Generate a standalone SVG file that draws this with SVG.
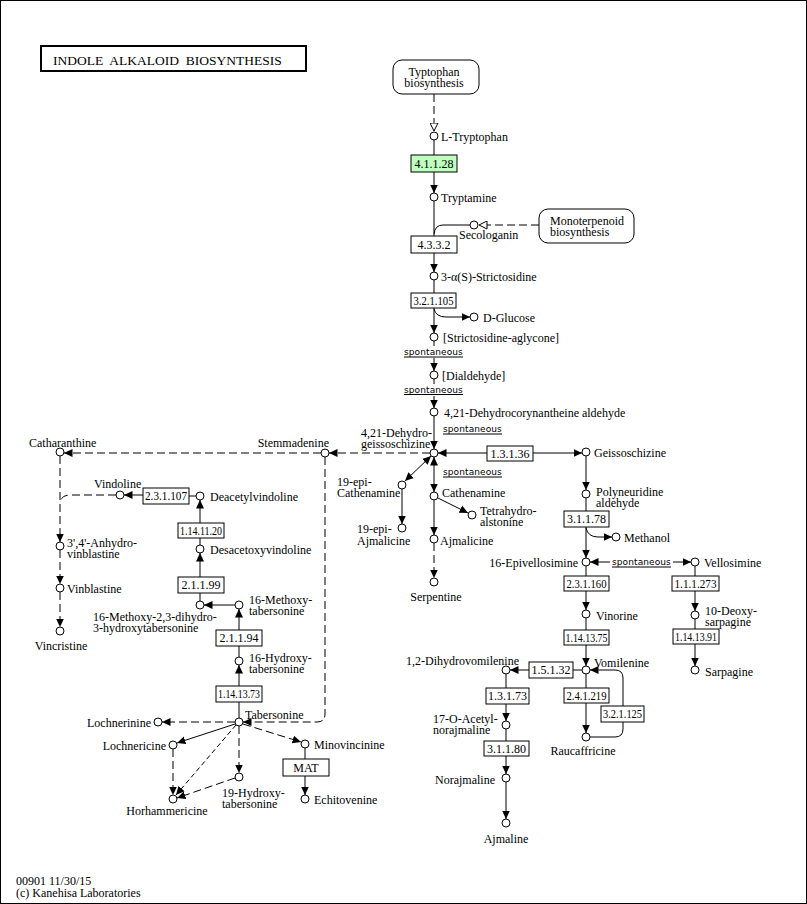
<svg xmlns="http://www.w3.org/2000/svg" width="807" height="904" viewBox="0 0 807 904">
<defs>
<marker id="a" markerUnits="userSpaceOnUse" markerWidth="9" markerHeight="9" refX="8.5" refY="4.5" orient="auto-start-reverse"><path d="M0,0.5 L8.5,4.5 L0,8.5 z" fill="#000"/></marker>
<marker id="o" markerUnits="userSpaceOnUse" markerWidth="9" markerHeight="9" refX="8.5" refY="4.5" orient="auto"><path d="M0.5,0.5 L8.5,4.5 L0.5,8.5 z" fill="#fff" stroke="#000" stroke-width="1"/></marker>
</defs>
<style>
text{font-family:"Liberation Serif","Times New Roman",serif;font-size:12px;fill:#000}
.m{text-anchor:middle}
.r{text-anchor:end}
.s{font-family:"DejaVu Sans","Liberation Sans",sans-serif;font-size:9px;letter-spacing:0.1px}
.c{fill:#fff;stroke:#000;stroke-width:1}
.b{fill:#fff;stroke:#000;stroke-width:1}
.g{fill:#bfffbf;stroke:#000;stroke-width:1}
#edges path{fill:none;stroke:#000;stroke-width:1}
#edges .d{stroke-dasharray:8,4}
#edges .t{stroke-dasharray:5,3}
#edges .ar{marker-end:url(#a)}
#edges .bi{marker-start:url(#a);marker-end:url(#a)}
#edges .op{marker-end:url(#o)}
.u{stroke:#000;stroke-width:1}
</style>
<rect x="0.5" y="0.5" width="806" height="903" fill="#fff" stroke="#000" stroke-width="1"/>
<g id="title"><rect x="41" y="46" width="265" height="25" fill="#fff" stroke="#000" stroke-width="2"/><text x="53" y="65" xml:space="preserve" style="font-size:13.5px">INDOLE  ALKALOID  BIOSYNTHESIS</text></g>

<g id="edges">
<path class="d op" d="M434,94 V131"/>
<path d="M434,140 V155"/>
<path class="ar" d="M434,172 V193"/>
<path d="M434,201 V236"/>
<path d="M470,225 H443 Q435,225 434,234"/>
<path class="d op" d="M539,225 H479"/>
<path class="ar" d="M434,253 V272"/>
<path d="M434,280 V293"/>
<path class="ar" d="M434,308 V333"/>
<path class="ar" d="M434,309 Q436,317 446,317 H470"/>
<path class="ar" d="M434,341 V371"/>
<path class="ar" d="M434,379 V408"/>
<path class="ar" d="M434,416 V449"/>
<path class="d ar" d="M430,453 H329"/>
<path class="d ar" d="M321,453 H64"/>
<path class="d ar" d="M325,457 V714 Q325,722 317,722 H243"/>
<path class="ar" d="M487,453 H438"/>
<path class="ar" d="M533,453 H582"/>
<path class="bi" d="M434,457 V492"/>
<path class="bi" d="M431,456 L405,481"/>
<path class="ar" d="M402,489 V524"/>
<path class="ar" d="M438,498 L468,513"/>
<path class="ar" d="M434,500 V535"/>
<path class="d ar" d="M434,543 V578"/>
<path class="ar" d="M586,456 V490"/>
<path d="M586,498 V511"/>
<path class="ar" d="M586,527 V558"/>
<path class="ar" d="M586,528 Q588,537 598,537 H612"/>
<path class="ar" d="M610,562 H590"/>
<path class="ar" d="M673,562 H691"/>
<path d="M586,566 V576"/>
<path class="ar" d="M586,591 V610"/>
<path d="M586,618 V630"/>
<path class="ar" d="M586,645 V666"/>
<path d="M695,566 V576"/>
<path class="ar" d="M695,591 V611"/>
<path d="M695,619 V629"/>
<path class="ar" d="M695,644 V666"/>
<path d="M582,670 H573"/>
<path class="ar" d="M529,670 H510"/>
<path d="M506,674 V688"/>
<path class="ar" d="M506,704 V721"/>
<path d="M506,729 V741"/>
<path class="ar" d="M506,756 V774"/>
<path class="ar" d="M506,782 V819"/>
<path d="M586,674 V688"/>
<path class="ar" d="M586,703 V733"/>
<path class="ar" d="M590,737 H615 Q623,737 623,729 V678 Q623,670 615,670 H590"/>
<path class="d ar" d="M60,456 V542"/>
<path class="d" d="M116,495 H70 Q61,495 60,503"/>
<path class="ar" d="M143,495 H124"/>
<path d="M189,496 H196"/>
<path class="ar" d="M200,523 V500"/>
<path d="M200,553 V538"/>
<path class="ar" d="M200,577 V553"/>
<path d="M200,593 V601"/>
<path class="ar" d="M235,605 H204"/>
<path class="ar" d="M239,630 V609"/>
<path d="M239,657 V646"/>
<path class="ar" d="M239,686 V665"/>
<path d="M239,702 V718"/>
<path class="d ar" d="M60,550 V584"/>
<path class="d ar" d="M60,592 V627"/>
<path class="d ar" d="M235,722 H162"/>
<path class="ar" d="M235,724 L177,743"/>
<path class="t ar" d="M236,725 L176,795"/>
<path class="d ar" d="M239,726 V773"/>
<path class="d ar" d="M243,724 L301,742"/>
<path class="d ar" d="M173,749 V795"/>
<path class="d ar" d="M235,778 L177,798"/>
<path d="M305,748 V759"/>
<path class="ar" d="M305,776 V795"/>
</g>

<g id="map_tryptophan"><rect x="393" y="60" width="86" height="34" rx="9" class="b"/><text class="m" x="434" y="76">Typtophan</text><text class="m" x="434" y="87">biosynthesis</text></g>
<g id="map_monoterpenoid"><rect x="539" y="209" width="95" height="34" rx="9" class="b"/><text x="550" y="225">Monoterpenoid</text><text x="550" y="236">biosynthesis</text></g>

<g id="ec_4.1.1.28"><rect x="411" y="155" width="46" height="17" class="g"/><text class="m" x="434" y="168">4.1.1.28</text></g>
<g id="ec_4.3.3.2"><rect x="411" y="236" width="46" height="17" class="b"/><text class="m" x="434" y="249">4.3.3.2</text></g>
<g id="ec_3.2.1.105"><rect x="411" y="293" width="45" height="15" class="b"/><text class="m" x="433.5" y="305" textLength="40" lengthAdjust="spacingAndGlyphs">3.2.1.105</text></g>
<g id="ec_1.3.1.36"><rect x="487" y="446" width="46" height="15" class="b"/><text class="m" x="510" y="458">1.3.1.36</text></g>
<g id="ec_3.1.1.78"><rect x="564" y="511" width="45" height="16" class="b"/><text class="m" x="586.5" y="523">3.1.1.78</text></g>
<g id="ec_2.3.1.160"><rect x="564" y="576" width="45" height="15" class="b"/><text class="m" x="586.5" y="588" textLength="40" lengthAdjust="spacingAndGlyphs">2.3.1.160</text></g>
<g id="ec_1.14.13.75"><rect x="564" y="630" width="45" height="15" class="b"/><text class="m" x="586.5" y="642" textLength="42" lengthAdjust="spacingAndGlyphs">1.14.13.75</text></g>
<g id="ec_1.1.1.273"><rect x="672" y="576" width="47" height="15" class="b"/><text class="m" x="695.5" y="588" textLength="42" lengthAdjust="spacingAndGlyphs">1.1.1.273</text></g>
<g id="ec_1.14.13.91"><rect x="673" y="629" width="46" height="15" class="b"/><text class="m" x="696" y="641" textLength="42" lengthAdjust="spacingAndGlyphs">1.14.13.91</text></g>
<g id="ec_1.5.1.32"><rect x="529" y="662" width="44" height="16" class="b"/><text class="m" x="551" y="674">1.5.1.32</text></g>
<g id="ec_1.3.1.73"><rect x="486" y="688" width="43" height="16" class="b"/><text class="m" x="507.5" y="700">1.3.1.73</text></g>
<g id="ec_3.1.1.80"><rect x="484" y="741" width="45" height="15" class="b"/><text class="m" x="506.5" y="753">3.1.1.80</text></g>
<g id="ec_2.4.1.219"><rect x="564" y="688" width="45" height="15" class="b"/><text class="m" x="586.5" y="700" textLength="40" lengthAdjust="spacingAndGlyphs">2.4.1.219</text></g>
<g id="ec_3.2.1.125"><rect x="601" y="706" width="43" height="16" class="b"/><text class="m" x="622.5" y="718" textLength="39" lengthAdjust="spacingAndGlyphs">3.2.1.125</text></g>
<g id="ec_2.3.1.107"><rect x="143" y="488" width="46" height="16" class="b"/><text class="m" x="166" y="500" textLength="42" lengthAdjust="spacingAndGlyphs">2.3.1.107</text></g>
<g id="ec_1.14.11.20"><rect x="178" y="523" width="46" height="15" class="b"/><text class="m" x="201" y="535" textLength="42" lengthAdjust="spacingAndGlyphs">1.14.11.20</text></g>
<g id="ec_2.1.1.99"><rect x="178" y="577" width="46" height="16" class="b"/><text class="m" x="201" y="589">2.1.1.99</text></g>
<g id="ec_2.1.1.94"><rect x="216" y="630" width="46" height="16" class="b"/><text class="m" x="239" y="642">2.1.1.94</text></g>
<g id="ec_1.14.13.73"><rect x="216" y="686" width="46" height="16" class="b"/><text class="m" x="239" y="698" textLength="42" lengthAdjust="spacingAndGlyphs">1.14.13.73</text></g>
<g id="ec_MAT"><rect x="283" y="759" width="46" height="17" class="b"/><text class="m" x="306" y="772">MAT</text></g>

<g id="spontaneous">
<rect x="403" y="346" width="62" height="12" fill="#fff"/><text class="s" x="404" y="355">spontaneous</text><line class="u" x1="404" y1="357" x2="463" y2="357"/>
<rect x="403" y="384" width="62" height="12" fill="#fff"/><text class="s" x="404" y="392.5">spontaneous</text><line class="u" x1="404" y1="394.5" x2="463" y2="394.5"/>
<text class="s" x="443" y="432">spontaneous</text><line class="u" x1="443" y1="434" x2="502" y2="434"/>
<text class="s" x="443" y="475">spontaneous</text><line class="u" x1="443" y1="477" x2="502" y2="477"/>
<text class="s" x="612" y="565">spontaneous</text><line class="u" x1="612" y1="567" x2="671" y2="567"/>
</g>

<g id="n_ltrp"><circle cx="434" cy="136" r="4" class="c"/><text x="441" y="141">L-Tryptophan</text></g>
<g id="n_tryptamine"><circle cx="434" cy="197" r="4" class="c"/><text x="441" y="202">Tryptamine</text></g>
<g id="n_secologanin"><circle cx="474" cy="225" r="4" class="c"/><text x="459" y="239">Secologanin</text></g>
<g id="n_strictosidine"><circle cx="434" cy="276" r="4" class="c"/><text x="441" y="281">3-α(S)-Strictosidine</text></g>
<g id="n_glucose"><circle cx="474" cy="317" r="4" class="c"/><text x="483" y="322">D-Glucose</text></g>
<g id="n_aglycone"><circle cx="434" cy="337" r="4" class="c"/><text x="443" y="342">[Strictosidine-aglycone]</text></g>
<g id="n_dialdehyde"><circle cx="434" cy="375" r="4" class="c"/><text x="442" y="380">[Dialdehyde]</text></g>
<g id="n_dca"><circle cx="434" cy="412" r="4" class="c"/><text x="444" y="417">4,21-Dehydrocorynantheine aldehyde</text></g>
<g id="n_dhg"><circle cx="434" cy="453" r="4" class="c"/><text x="361" y="437">4,21-Dehydro-</text><text x="361" y="448">geissoschizine</text></g>
<g id="n_stemmadenine"><circle cx="325" cy="453" r="4" class="c"/><text class="r" x="329" y="447">Stemmadenine</text></g>
<g id="n_catharanthine"><circle cx="60" cy="452" r="4" class="c"/><text x="29" y="447">Catharanthine</text></g>
<g id="n_geissoschizine"><circle cx="586" cy="452" r="4" class="c"/><text x="594" y="457">Geissoschizine</text></g>
<g id="n_epicathenamine"><circle cx="402" cy="485" r="4" class="c"/><text x="337" y="486">19-epi-</text><text x="337" y="497">Cathenamine</text></g>
<g id="n_epiajmalicine"><circle cx="402" cy="528" r="4" class="c"/><text x="357" y="533">19-epi-</text><text x="357" y="545">Ajmalicine</text></g>
<g id="n_cathenamine"><circle cx="434" cy="496" r="4" class="c"/><text x="442" y="497">Cathenamine</text></g>
<g id="n_tha"><circle cx="472" cy="515" r="4" class="c"/><text x="480" y="515">Tetrahydro-</text><text x="480" y="526">alstonine</text></g>
<g id="n_ajmalicine"><circle cx="434" cy="539" r="4" class="c"/><text x="440" y="545">Ajmalicine</text></g>
<g id="n_serpentine"><circle cx="434" cy="582" r="4" class="c"/><text class="m" x="436" y="601">Serpentine</text></g>
<g id="n_polyneuridine"><circle cx="586" cy="494" r="4" class="c"/><text x="596" y="496">Polyneuridine</text><text x="596" y="507">aldehyde</text></g>
<g id="n_methanol"><circle cx="616" cy="537" r="4" class="c"/><text x="624" y="542">Methanol</text></g>
<g id="n_epivellosimine"><circle cx="586" cy="562" r="4" class="c"/><text class="r" x="578" y="567">16-Epivellosimine</text></g>
<g id="n_vellosimine"><circle cx="695" cy="562" r="4" class="c"/><text x="704" y="567">Vellosimine</text></g>
<g id="n_vinorine"><circle cx="586" cy="614" r="4" class="c"/><text x="596" y="620">Vinorine</text></g>
<g id="n_deoxysarpagine"><circle cx="695" cy="615" r="4" class="c"/><text x="705" y="615">10-Deoxy-</text><text x="705" y="626">sarpagine</text></g>
<g id="n_sarpagine"><circle cx="695" cy="670" r="4" class="c"/><text x="705" y="676">Sarpagine</text></g>
<g id="n_vomilenine"><circle cx="586" cy="670" r="4" class="c"/><text x="594" y="667">Vomilenine</text></g>
<g id="n_dhv"><circle cx="506" cy="670" r="4" class="c"/><text class="r" x="519" y="665">1,2-Dihydrovomilenine</text></g>
<g id="n_acetylnorajmaline"><circle cx="506" cy="725" r="4" class="c"/><text x="433" y="723">17-O-Acetyl-</text><text x="433" y="734">norajmaline</text></g>
<g id="n_norajmaline"><circle cx="506" cy="778" r="4" class="c"/><text class="r" x="495" y="784">Norajmaline</text></g>
<g id="n_ajmaline"><circle cx="506" cy="823" r="4" class="c"/><text class="m" x="506" y="843">Ajmaline</text></g>
<g id="n_raucaffricine"><circle cx="586" cy="737" r="4" class="c"/><text class="m" x="583" y="755">Raucaffricine</text></g>
<g id="n_vindoline"><circle cx="120" cy="495" r="4" class="c"/><text x="94" y="488">Vindoline</text></g>
<g id="n_deacetylvindoline"><circle cx="200" cy="496" r="4" class="c"/><text x="210" y="501">Deacetylvindoline</text></g>
<g id="n_desacetoxyvindoline"><circle cx="200" cy="549" r="4" class="c"/><text x="210" y="554">Desacetoxyvindoline</text></g>
<g id="n_mdht"><circle cx="200" cy="605" r="4" class="c"/><text x="93" y="621">16-Methoxy-2,3-dihydro-</text><text x="93" y="632">3-hydroxytabersonine</text></g>
<g id="n_methoxytab"><circle cx="239" cy="605" r="4" class="c"/><text x="249" y="604">16-Methoxy-</text><text x="249" y="615">tabersonine</text></g>
<g id="n_hydroxytab"><circle cx="239" cy="661" r="4" class="c"/><text x="249" y="662">16-Hydroxy-</text><text x="249" y="673">tabersonine</text></g>
<g id="n_tabersonine"><circle cx="239" cy="722" r="4" class="c"/><text x="245" y="719">Tabersonine</text></g>
<g id="n_anhydrovinblastine"><circle cx="60" cy="546" r="4" class="c"/><text x="67" y="547">3',4'-Anhydro-</text><text x="67" y="558">vinblastine</text></g>
<g id="n_vinblastine"><circle cx="60" cy="588" r="4" class="c"/><text x="67" y="593">Vinblastine</text></g>
<g id="n_vincristine"><circle cx="60" cy="631" r="4" class="c"/><text class="m" x="61" y="650">Vincristine</text></g>
<g id="n_lochnerinine"><circle cx="158" cy="722" r="4" class="c"/><text class="r" x="151" y="727">Lochnerinine</text></g>
<g id="n_lochnericine"><circle cx="173" cy="745" r="4" class="c"/><text class="r" x="166" y="750">Lochnericine</text></g>
<g id="n_horhammericine"><circle cx="173" cy="799" r="4" class="c"/><text class="m" x="167" y="815">Horhammericine</text></g>
<g id="n_hydroxytab19"><circle cx="239" cy="777" r="4" class="c"/><text x="222" y="797">19-Hydroxy-</text><text x="222" y="808">tabersonine</text></g>
<g id="n_minovincinine"><circle cx="305" cy="744" r="4" class="c"/><text x="314" y="749">Minovincinine</text></g>
<g id="n_echitovenine"><circle cx="305" cy="799" r="4" class="c"/><text x="314" y="804">Echitovenine</text></g>

<g id="footer"><text x="16" y="885">00901 11/30/15</text><text x="16" y="897">(c) Kanehisa Laboratories</text></g>
</svg>
